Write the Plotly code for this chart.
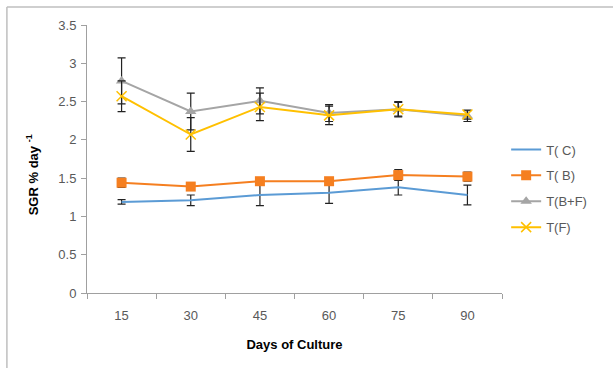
import plotly.graph_objects as go

days = ["15", "30", "45", "60", "75", "90"]

tc = [1.19, 1.21, 1.28, 1.31, 1.38, 1.28]
tc_err = [0.03, 0.07, 0.14, 0.14, 0.10, 0.13]

tb = [1.44, 1.39, 1.46, 1.46, 1.54, 1.52]
tb_err = [0.06, 0.03, 0.03, 0.03, 0.07, 0.06]

tbf = [2.77, 2.37, 2.51, 2.35, 2.40, 2.31]
tbf_err = [0.30, 0.24, 0.17, 0.11, 0.10, 0.07]

tf = [2.57, 2.07, 2.43, 2.32, 2.40, 2.33]
tf_err = [0.20, 0.22, 0.18, 0.12, 0.09, 0.06]

series = [
    ("T( C)", tc, tc_err, "#5B9BD5", None),
    ("T( B)", tb, tb_err, "#F57F20", dict(symbol="square", size=10, color="#F57F20")),
    ("T(B+F)", tbf, tbf_err, "#A5A5A5", dict(symbol="triangle-up", size=10, color="#A5A5A5")),
    ("T(F)", tf, tf_err, "#FFC000", dict(symbol="x-thin", size=10, line=dict(color="#FFC000", width=1.5))),
]

fig = go.Figure()
for i, (name, y, err, color, marker) in enumerate(series):
    fig.add_trace(go.Scatter(
        x=days, y=y, name=name,
        mode="lines+markers" if marker else "lines",
        line=dict(color=color, width=2),
        marker=marker if marker else None,
        legendgroup=f"g{i}",
        error_y=dict(type="data", array=err, visible=True, color="#222222", thickness=1.2, width=4),
    ))

fig.update_layout(
    width=613, height=368,
    margin=dict(l=87, r=111, t=25, b=75),
    paper_bgcolor="white", plot_bgcolor="white",
    font=dict(family="Liberation Sans, Arial, sans-serif", size=13, color="#595959"),
    showlegend=True,
    legend=dict(x=1.01, y=0.39, xanchor="left", yanchor="middle",
                font=dict(size=13, color="#595959"), tracegroupgap=6,
                itemwidth=30, bgcolor="rgba(0,0,0,0)"),
    xaxis=dict(
        type="category", range=[-0.5, 5.5], showgrid=False,
        showline=True, linecolor="#A0A0A0", linewidth=1,
        ticks="outside", tickson="boundaries", ticklen=5, tickcolor="#A0A0A0",
        ticklabelstandoff=10,
        title=dict(text="<b>Days of Culture</b>", font=dict(size=13, color="#000000"), standoff=18),
    ),
    yaxis=dict(
        range=[0, 3.5], dtick=0.5, showgrid=False, zeroline=False,
        showline=True, linecolor="#A0A0A0", linewidth=1,
        ticks="outside", ticklen=5, tickcolor="#A0A0A0",
        ticklabelstandoff=2,
        tickformat="~g",
    ),
    annotations=[dict(
        text="<b>SGR % day <sup>-1</sup></b>", textangle=-90,
        xref="paper", yref="paper", x=-0.132, y=0.44,
        xanchor="center", yanchor="middle", showarrow=False,
        font=dict(size=13, color="#000000"),
    )],
    shapes=[
        dict(type="line", xref="paper", yref="paper", x0=-0.193, x1=1.3, y0=1.067, y1=1.067,
             line=dict(color="#BFBFBF", width=1.5)),
        dict(type="line", xref="paper", yref="paper", x0=-0.193, x1=-0.193, y0=1.067, y1=-0.3,
             line=dict(color="#BFBFBF", width=1.5)),
    ],
)

fig.write_html("out.html")
